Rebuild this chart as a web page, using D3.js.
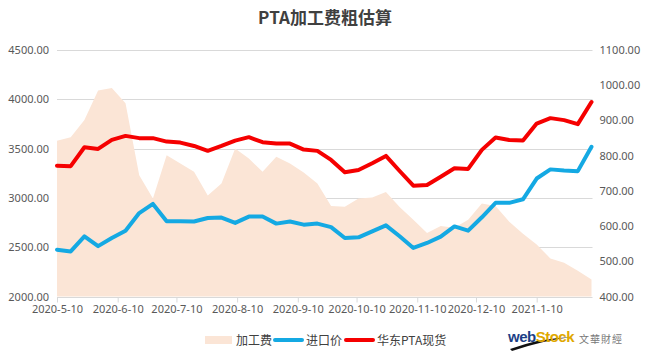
<!DOCTYPE html>
<html><head><meta charset="utf-8">
<script src="https://cdn.jsdelivr.net/npm/d3@7"></script>
<style>body{margin:0;background:#fff}svg{display:block}</style>
</head><body>
<script>
const dates = ["2020-05-10","2020-05-17","2020-05-24","2020-05-31","2020-06-07","2020-06-14","2020-06-21","2020-06-28",
"2020-07-05","2020-07-12","2020-07-19","2020-07-26","2020-08-02","2020-08-09","2020-08-16","2020-08-23","2020-08-30",
"2020-09-06","2020-09-13","2020-09-20","2020-09-27","2020-10-04","2020-10-11","2020-10-18","2020-10-25",
"2020-11-01","2020-11-08","2020-11-15","2020-11-22","2020-11-29","2020-12-06","2020-12-13","2020-12-20","2020-12-27",
"2021-01-03","2021-01-10","2021-01-17","2021-01-24","2021-01-31","2021-02-07"];
const processFee = [842,852,901,985,992,949,744,678,801,778,754,687,721,820,792,754,797,778,752,721,
657,655,678,681,697,654,618,580,600,595,618,664,657,612,578,548,508,496,473,448];
const importPrice = [533,528,571,543,566,587,637,663,614,614,613,623,624,609,627,627,607,613,604,607,
597,566,568,585,602,571,538,552,570,599,587,625,666,666,676,735,761,758,756,825];
const spotPrice = [3327,3322,3514,3497,3588,3629,3606,3606,3571,3561,3527,3477,3527,3581,3616,3565,3551,3551,3490,3477,
3385,3260,3283,3352,3426,3273,3124,3131,3215,3301,3294,3487,3612,3588,3581,3754,3809,3789,3748,3972];
const xTicks = ["2020-05-10","2020-06-10","2020-07-10","2020-08-10","2020-09-10","2020-10-10","2020-11-10","2020-12-10","2021-01-10"];
const leftTicks = [2000,2500,3000,3500,4000,4500];
const rightTicks = [400,500,600,700,800,900,1000,1100];
const seriesNames = ["加工费","进口价","华东PTA现货"];
const title = "PTA加工费粗估算";

const parse = d3.utcParse("%Y-%m-%d");
const D = dates.map(parse);
const W = 647, H = 358;
const L = 57, R = 591.5, T = 50, B = 296.5;
const font = "'Noto Sans','Noto Sans CJK SC',sans-serif";
const cjk = "'Noto Sans CJK SC','Noto Sans',sans-serif";

const x = d3.scaleUtc().domain([D[0], D[D.length-1]]).range([L, R]);
const yL = d3.scaleLinear().domain([2000,4500]).range([B, T]);
const yR = d3.scaleLinear().domain([400,1100]).range([B, T]);

const svg = d3.select("body").append("svg").attr("width", W).attr("height", H);

// title
svg.append("text").attr("x", 325).attr("y", 24).attr("text-anchor","middle")
  .attr("font-family", cjk).attr("font-size", 17).attr("font-weight","bold").attr("fill","#404040").text(title);

// gridlines
svg.append("g").selectAll("line").data(leftTicks.slice(1)).join("line")
  .attr("x1", L).attr("x2", R+1).attr("y1", d=>Math.round(yL(d))+0.5).attr("y2", d=>Math.round(yL(d))+0.5)
  .attr("stroke","#d9d9d9").attr("stroke-width",1);

// area
const data = D.map((d,i)=>({d, fee: processFee[i], imp: importPrice[i], spot: spotPrice[i]}));
svg.append("path").datum(data)
  .attr("d", d3.area().x(d=>x(d.d)).y0(B).y1(d=>yR(d.fee)))
  .attr("fill","#fbe5d6");

// x axis
const xAxis = d3.axisBottom(x).tickValues(xTicks.map(parse)).tickSize(5).tickSizeOuter(0)
  .tickFormat(d3.utcFormat("%Y-%-m-%-d")).tickPadding(3);
const gx = svg.append("g").attr("transform", `translate(0,${Math.round(B)+0.5})`).call(xAxis);
gx.select(".domain").attr("stroke","#d9d9d9").attr("d", `M${L},0H${R+1}`);
gx.selectAll(".tick line").attr("stroke","#d9d9d9");
gx.selectAll(".tick text").attr("fill","#595959").attr("font-family",font).attr("font-size",11);

// left axis
const gl = svg.append("g").attr("transform", `translate(${L},0)`)
  .call(d3.axisLeft(yL).tickValues(leftTicks).tickSize(0).tickPadding(8).tickFormat(d=>d.toFixed(2)));
gl.select(".domain").remove();
gl.selectAll(".tick text").attr("fill","#595959").attr("font-family",font).attr("font-size",11);

// right axis
const gr = svg.append("g").attr("transform", `translate(${R},0)`)
  .call(d3.axisRight(yR).tickValues(rightTicks).tickSize(0).tickPadding(8).tickFormat(d=>d.toFixed(2)));
gr.select(".domain").remove();
gr.selectAll(".tick text").attr("fill","#595959").attr("font-family",font).attr("font-size",11);

// lines
svg.append("path").datum(data)
  .attr("d", d3.line().x(d=>x(d.d)).y(d=>yR(d.imp)))
  .attr("fill","none").attr("stroke","#14a9e3").attr("stroke-width",4).attr("stroke-linejoin","round").attr("stroke-linecap","round");
svg.append("path").datum(data)
  .attr("d", d3.line().x(d=>x(d.d)).y(d=>yL(d.spot)))
  .attr("fill","none").attr("stroke","#f50000").attr("stroke-width",4).attr("stroke-linejoin","round").attr("stroke-linecap","round");

// legend
const lg = svg.append("g");
lg.append("rect").attr("x",205).attr("y",336).attr("width",27).attr("height",8).attr("fill","#fbe5d6");
lg.append("text").attr("x",236).attr("y",345).text(seriesNames[0]);
lg.append("line").attr("x1",275).attr("x2",302).attr("y1",340).attr("y2",340).attr("stroke","#14a9e3").attr("stroke-width",4).attr("stroke-linecap","round");
lg.append("text").attr("x",306).attr("y",345).text(seriesNames[1]);
lg.append("line").attr("x1",346).attr("x2",373).attr("y1",340).attr("y2",340).attr("stroke","#f50000").attr("stroke-width",4).attr("stroke-linecap","round");
lg.append("text").attr("x",377).attr("y",345).text(seriesNames[2]);
lg.selectAll("text").attr("font-family",cjk).attr("font-size",12).attr("fill","#404040");

// logo
const logo = svg.append("g");
logo.append("path").attr("d","M510,349 Q540,338 572,337 Q545,340 512,351 Z").attr("fill","#111");
const lt = logo.append("text").attr("x",508).attr("y",342).attr("font-family","'Liberation Sans',Arial,sans-serif")
  .attr("font-size",15).attr("font-weight","bold").attr("letter-spacing",-0.5);
lt.append("tspan").attr("fill","#1c3f86").text("web");
lt.append("tspan").attr("fill","#e0a800").text("Stock");
logo.append("text").attr("x",579).attr("y",343).attr("font-family","'Noto Sans CJK TC',sans-serif")
  .attr("font-size",10).attr("fill","#777").attr("letter-spacing",1).text("文華財經");
</script>
</body></html>
